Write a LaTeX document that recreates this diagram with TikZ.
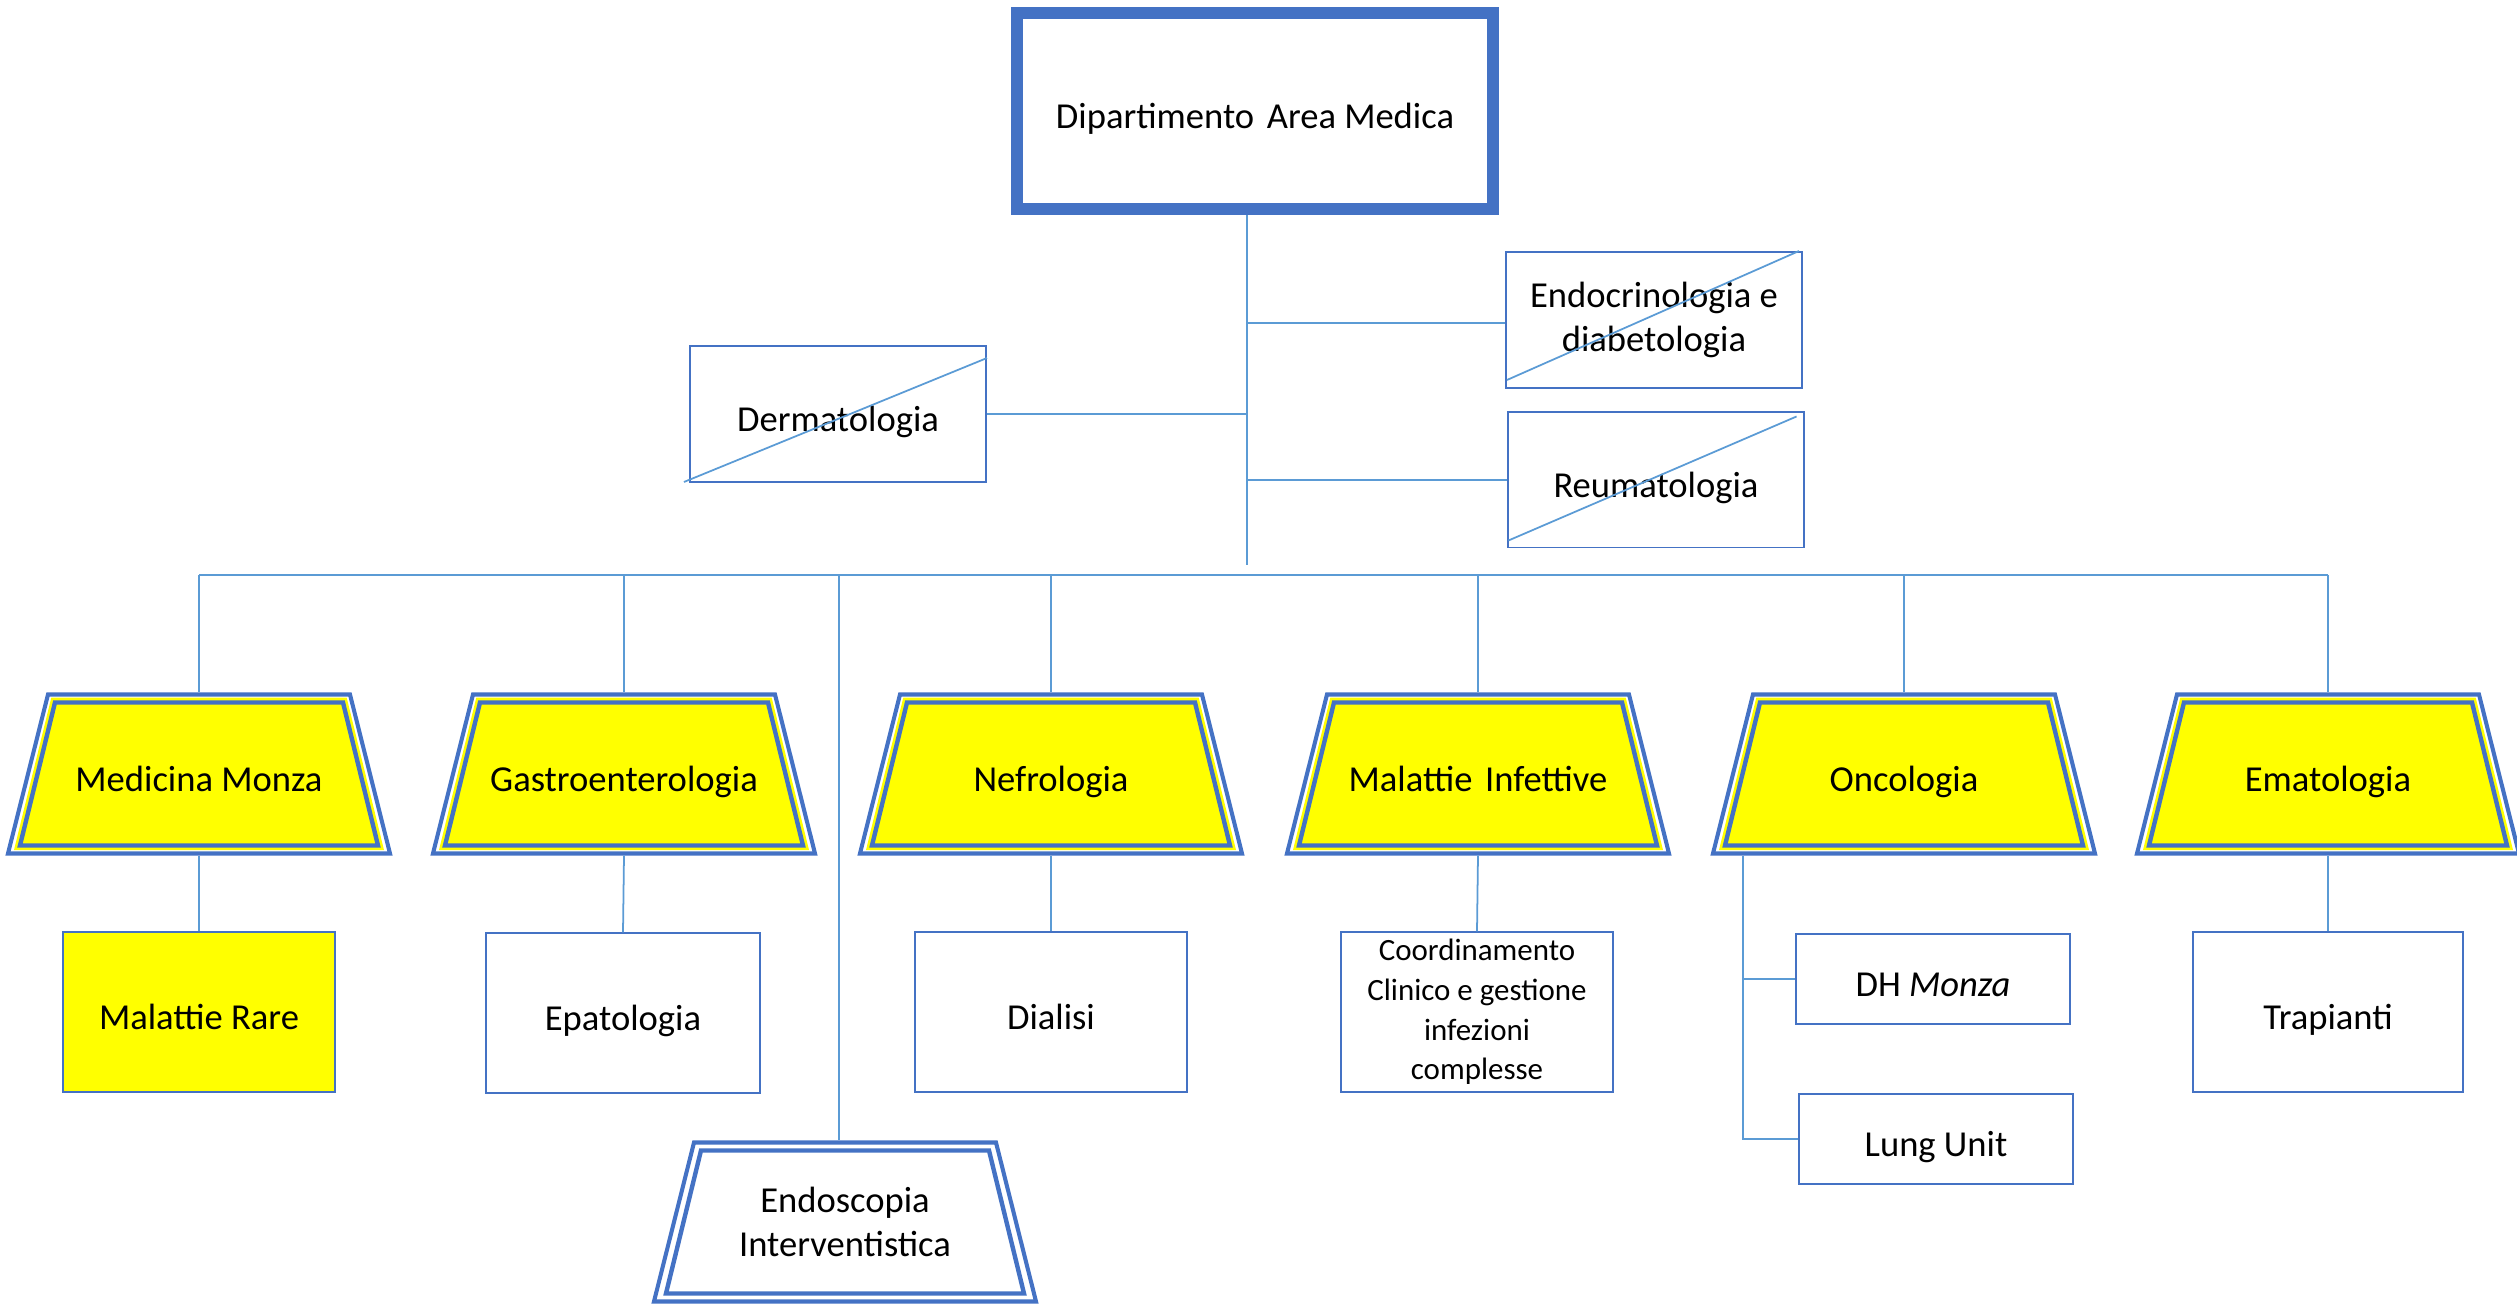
\documentclass[tikz,border=0pt]{standalone}
\usepackage{fontspec}
\setmainfont{Carlito}

\definecolor{boxblue}{HTML}{4472C4}
\definecolor{linkblue}{HTML}{5B9BD5}
\definecolor{unityellow}{HTML}{FFFF00}

\tikzset{
  lbl/.style={font=\fontsize{10.4}{12.7}\selectfont, align=center, text=black},
  oneline/.style={text height=10.2pt, text depth=0pt},
  link/.style={draw=linkblue, line width=0.5pt},
  unitbox/.style={rectangle, draw=boxblue, line width=0.55pt, inner sep=0pt, lbl},
  unitlbl/.style={rectangle, inner sep=0pt, outer sep=0pt, minimum width=3.86cm,
    minimum height=1.63cm, lbl},
  trapouter/.style={draw=boxblue, line width=1.15pt, fill=white},
  trapinner/.style={draw=boxblue, line width=1.25pt, fill=#1,
    preaction={draw=#1, line width=2.7pt}}
}

% [label style] name, x, y, fill, text
\newcommand{\trapunit}[6][oneline]{%
  \begin{scope}[shift={(#3,#4)}]
    \path[trapouter] (-151,-79.5) -- (151,-79.5) -- (191,79.5) -- (-191,79.5) -- cycle;
    \path[trapinner=#5] (-144,-71.5) -- (144,-71.5) -- (179,71.5) -- (-179,71.5) -- cycle;
  \end{scope}
  \node[unitlbl, #1] (#2) at (#3,#4) {#6};
}

\begin{document}
\begin{tikzpicture}[x=0.01cm, y=-0.01cm]
    \useasboundingbox (0,0) rectangle (2517,1304);

    \node[rectangle, draw=boxblue, line width=3.4pt, minimum width=4.76cm,
      minimum height=1.96cm, lbl, oneline] (dip) at (1255,111) {Dipartimento\hspace{0.12em} Area Medica};
    \coordinate (trunk) at (1247,565);
    \coordinate (bus) at (0,575);

    \node[unitbox, oneline, minimum width=2.96cm, minimum height=1.36cm] (derm) at (838,414) {Dermatologia};
    \node[unitbox, minimum width=2.96cm, minimum height=1.36cm] (endo) at (1654,320) {Endocrinologia e\\diabetologia};
    \node[unitbox, oneline, minimum width=2.95cm, minimum height=1.35cm] (reum) at (1656,480) {Reumatologia};
    \draw[link] ([shift={(-5,-1)}]derm.south west) -- ([shift={(0,13)}]derm.north east);
    \draw[link] ([shift={(2,-9)}]endo.south west) -- ([shift={(-4,0)}]endo.north east);
    \draw[link] ([shift={(1,-8)}]reum.south west) -- ([shift={(-8,5)}]reum.north east);

    \draw[link] (dip.south -| trunk) -- (trunk);
    \draw[link] (derm.east) -- (derm.east -| trunk);
    \draw[link] ([shift={(0,3)}]endo.west) -- ([shift={(0,3)}]endo.west -| trunk);
    \draw[link] (reum.west) -- (reum.west -| trunk);

    \trapunit{med}{199}{774}{unityellow}{Medicina Monza}
    \trapunit{gas}{624}{774}{unityellow}{Gastroenterologia}
    \trapunit{nef}{1051}{774}{unityellow}{Nefrologia}
    \trapunit{mal}{1478}{774}{unityellow}{Malattie\hspace{0.12em} Infettive}
    \trapunit{onc}{1904}{774}{unityellow}{Oncologia}
    \trapunit{ema}{2328}{774}{unityellow}{Ematologia}
    \trapunit[]{ends}{845}{1222}{white}{Endoscopia\\Interventistica}

    \draw[link] (med.north |- bus) -- (ema.north |- bus);
    \foreach \t in {med,gas,nef,mal,onc,ema}
        \draw[link] (\t.north |- bus) -- (\t.north);
    \draw[link] ([shift={(-6,0)}]ends.north |- bus) -- ([shift={(-6,0)}]ends.north);

    \node[unitbox, oneline, fill=unityellow, minimum width=2.71cm, minimum height=1.59cm] (rare) at (199,1012) {Malattie Rare};
    \node[unitbox, oneline, minimum width=2.73cm, minimum height=1.59cm] (epat) at (623,1013) {Epatologia};
    \node[unitbox, oneline, minimum width=2.71cm, minimum height=1.59cm] (dial) at (1051,1012) {Dialisi};
    \node[unitbox, minimum width=2.71cm, minimum height=1.59cm,
      font=\fontsize{8.8}{11.3}\selectfont] (coord) at (1477,1012) {Coordinamento\\Clinico e gestione\\infezioni\\complesse};
    \node[unitbox, oneline, minimum width=2.73cm, minimum height=0.90cm] (dh) at (1933,979) {DH \textit{Monza}};
    \node[unitbox, oneline, minimum width=2.73cm, minimum height=0.90cm] (lung) at (1936,1139) {Lung Unit};
    \node[unitbox, oneline, minimum width=2.69cm, minimum height=1.59cm] (trap) at (2328,1012) {Trapianti};
    \coordinate (oncX) at (1743,0);

    \draw[link] (med.south) -- (rare.north);
    \draw[link] (gas.south) -- (epat.north);
    \draw[link] (nef.south) -- (dial.north);
    \draw[link] (mal.south) -- (coord.north);
    \draw[link] (ema.south) -- (trap.north);
    \draw[link] (onc.south -| oncX) -- (lung.west -| oncX) -- (lung.west);
    \draw[link] (dh.west -| oncX) -- (dh.west);

\end{tikzpicture}
\end{document}
